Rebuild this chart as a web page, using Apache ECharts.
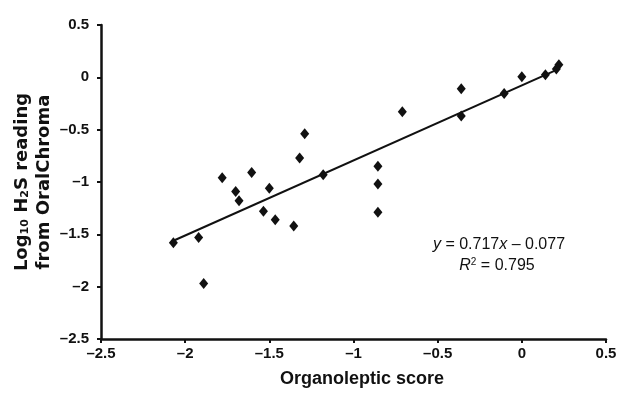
<!DOCTYPE html>
<html>
<head>
<meta charset="utf-8">
<script src="https://cdn.jsdelivr.net/npm/echarts@6/dist/echarts.min.js"></script>
<style>
  html, body { margin: 0; padding: 0; background: #fff; }
  #chart { width: 623px; height: 393px; }
</style>
</head>
<body>
<div id="chart"></div>
<script>
// Organoleptic score vs. log10 H2S reading (OralChroma), one point per subject
const organolepticScore = [
  -2.07, -1.92, -1.89, -1.78, -1.70, -1.68, -1.605, -1.50, -1.535, -1.465,
  -1.355, -1.32, -1.29, -1.18, -0.855, -0.855, -0.855, -0.71, -0.36, -0.36,
  -0.105, 0.0, 0.14, 0.22, 0.205
];
const logH2S = [
  -1.58, -1.53, -1.97, -0.96, -1.09, -1.18, -0.91, -1.06, -1.28, -1.36,
  -1.42, -0.77, -0.54, -0.93, -0.85, -1.02, -1.29, -0.33, -0.11, -0.37,
  -0.155, 0.005, 0.025, 0.12, 0.08
];

// Least-squares fit reported on the chart
const fitSlope = 0.717;
const fitIntercept = -0.077;
const fitR2 = 0.795;
const fitRange = [-2.07, 0.22];

const xTicks = [-2.5, -2, -1.5, -1, -0.5, 0, 0.5];
const yTicks = [-2.5, -2, -1.5, -1, -0.5, 0, 0.5];

const points = organolepticScore.map((x, i) => [x, logH2S[i]]);
const fitLine = fitRange.map(x => [x, fitSlope * x + fitIntercept]);

const fmt = v => String(v).replace('-', '\u2013');
const FONT = 'Liberation Sans, Arial, Helvetica, sans-serif';
const WIDE = 'DejaVu Sans, Verdana, sans-serif';

const chart = echarts.init(document.getElementById('chart'), null, { renderer: 'canvas' });

const tickLabel = {
  fontFamily: FONT,
  fontSize: 15,
  fontWeight: 'bold',
  color: '#111'
};

chart.setOption({
  animation: false,
  backgroundColor: '#ffffff',
  grid: { left: 101, right: 17, top: 25, bottom: 54, containLabel: false },
  xAxis: {
    type: 'value',
    min: xTicks[0],
    max: xTicks[xTicks.length - 1],
    interval: 0.5,
    axisLine: { show: true, onZero: false, lineStyle: { color: '#111', width: 2.5 } },
    axisTick: { show: true, inside: false, length: 4, lineStyle: { color: '#111', width: 2 } },
    axisLabel: Object.assign({ margin: 7, formatter: fmt }, tickLabel),
    splitLine: { show: false }
  },
  yAxis: {
    type: 'value',
    min: yTicks[0],
    max: yTicks[yTicks.length - 1],
    interval: 0.5,
    axisLine: { show: true, onZero: false, lineStyle: { color: '#111', width: 2.5 } },
    axisTick: { show: true, inside: false, length: 4, lineStyle: { color: '#111', width: 2 } },
    axisLabel: Object.assign({ margin: 12, formatter: fmt }, tickLabel),
    splitLine: { show: false }
  },
  series: [
    {
      type: 'line',
      data: fitLine,
      showSymbol: false,
      lineStyle: { color: '#111', width: 2 },
      z: 2
    },
    {
      type: 'scatter',
      data: points,
      symbol: 'diamond',
      symbolSize: [9, 11],
      itemStyle: { color: '#111', opacity: 1 },
      z: 3
    }
  ],
  graphic: [
    {
      type: 'text',
      x: 33,
      y: 182,
      rotation: Math.PI / 2,
      style: {
        text: '{t|Log}{s|10}{t| H}{s|2}{t|S reading}\n{t|from OralChroma}',
        align: 'center',
        verticalAlign: 'middle',
        fill: '#111',
        rich: {
          t: { fontFamily: WIDE, fontSize: 18, fontWeight: 'bold', lineHeight: 22, fill: '#111' },
          s: { fontFamily: WIDE, fontSize: 11, fontWeight: 'bold', padding: [7, 0, 0, 0], fill: '#111' }
        }
      }
    },
    {
      type: 'text',
      x: 362,
      y: 379,
      style: {
        text: 'Organoleptic score',
        align: 'center',
        verticalAlign: 'middle',
        fontFamily: FONT,
        fontSize: 18,
        fontWeight: 'bold',
        fill: '#111'
      }
    },
    {
      type: 'text',
      x: 499,
      y: 245,
      style: {
        text: '{i|y}{n| = ' + fitSlope + '}{i|x}{n| \u2013 ' + String(-fitIntercept).replace(/^0?/, '0') + '}',
        align: 'center',
        verticalAlign: 'middle',
        rich: {
          i: { fontFamily: FONT, fontSize: 16, fontStyle: 'italic', fill: '#111' },
          n: { fontFamily: FONT, fontSize: 16, fill: '#111' }
        }
      }
    },
    {
      type: 'text',
      x: 497,
      y: 266,
      style: {
        text: '{i|R}{p|2}{n| = ' + fitR2 + '}',
        align: 'center',
        verticalAlign: 'middle',
        rich: {
          i: { fontFamily: FONT, fontSize: 16, fontStyle: 'italic', fill: '#111' },
          p: { fontFamily: FONT, fontSize: 10, padding: [0, 0, 7, 0], fill: '#111' },
          n: { fontFamily: FONT, fontSize: 16, fill: '#111' }
        }
      }
    }
  ]
});
</script>
</body>
</html>
